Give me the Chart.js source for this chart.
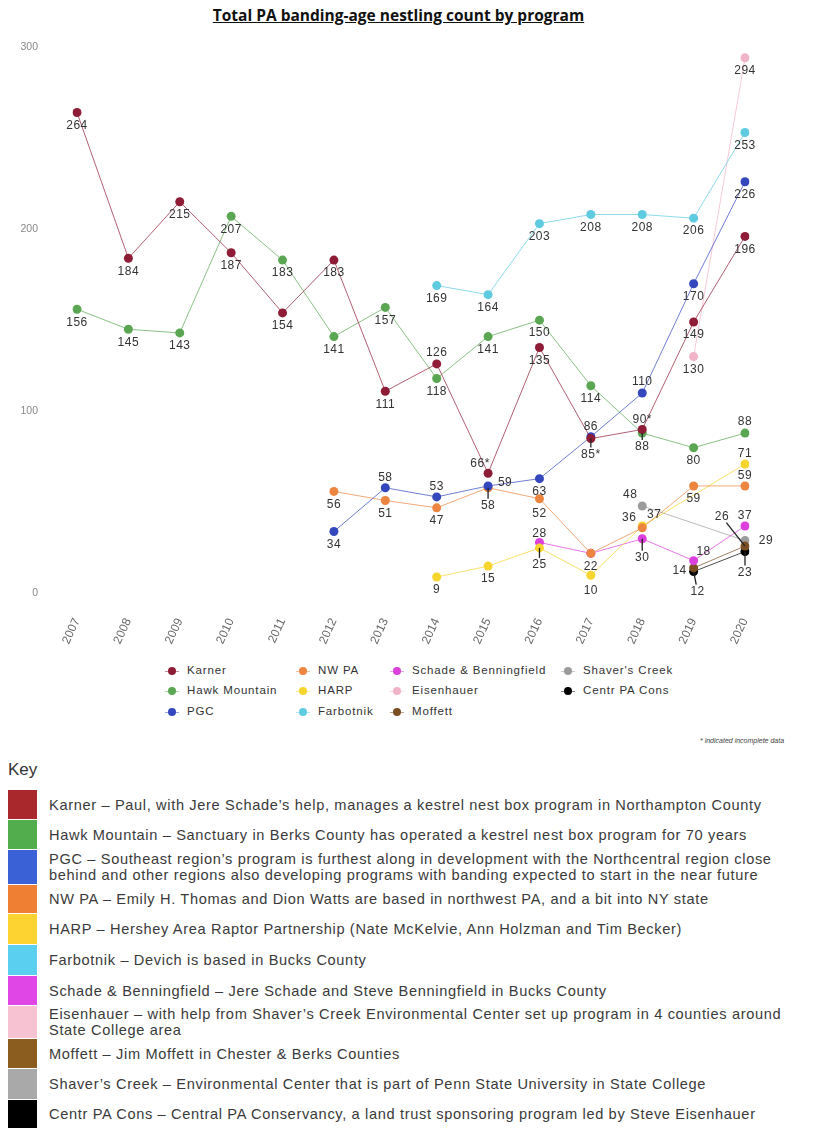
<!DOCTYPE html>
<html>
<head>
<meta charset="utf-8">
<script src="https://cdn.jsdelivr.net/npm/chart.js@4.4.1/dist/chart.umd.min.js"></script>
<style>
  body { margin: 0; background: #fff; font-family: "Liberation Sans", Arial, sans-serif; }
  #page { position: relative; width: 819px; height: 1144px; overflow: hidden; }
  #title { position: absolute; top: 4px; left: 0; width: 797px; text-align: center;
           font: bold 15.5px "Open Sans", "Liberation Sans", sans-serif; color: #111; text-decoration: underline; }
  #chartBox { position: absolute; top: 30px; left: 0; }
  .lg { position: absolute; font-size: 11.5px; letter-spacing: 0.85px; color: #333; white-space: nowrap; }
  .lg .mk { position: absolute; left: -22px; top: 1px; width: 14px; height: 12px; }
  .lg .mk i { position: absolute; left: 0; top: 6px; width: 14px; height: 1px; }
  .lg .mk b { position: absolute; left: 3px; top: 2px; width: 8px; height: 8px; border-radius: 50%; }
  #note { position: absolute; left: 700px; top: 737px; font: italic 7px "Liberation Sans", Arial; color: #444; }
  #keyHead { position: absolute; left: 8px; top: 760px; font-size: 17px; color: #333; }
  .kr { position: absolute; left: 8px; width: 805px; }
  .kr .sw { position: absolute; left: 0; top: 0; width: 29px; bottom: 1px; }
  .kr .tx { position: absolute; left: 41px; font-size: 14.6px; letter-spacing: 0.65px; color: #3a3a3a; line-height: 16px; white-space: nowrap; }
</style>
</head>
<body>
<div id="page">
  <div id="title">Total PA banding-age nestling count by program</div>
  <div id="chartBox"><canvas id="nestChart" width="819" height="630"></canvas></div>
  <div id="legendBox"></div>
  <div id="note">* indicated incomplete data</div>
  <div id="keyHead">Key</div>
  <div id="keyBox"></div>
</div>
<script>
// years on the x axis
const years = ['2007', '2008', '2009', '2010', '2011', '2012', '2013', '2014', '2015', '2016', '2017', '2018', '2019', '2020'];

// nestling counts per program (null = no data that year)
const karner      = [264, 184, 215, 187, 154, 183, 111, 126, 66, 135, 85, 90, 149, 196];
const hawkMtn     = [156, 145, 143, 207, 183, 141, 157, 118, 141, 150, 114, 88, 80, 88];
const pgc         = [null, null, null, null, null, 34, 58, 53, 59, 63, 86, 110, 170, 226];
const nwPa        = [null, null, null, null, null, 56, 51, 47, 58, 52, 22, 36, 59, 59];
const harp        = [null, null, null, null, null, null, null, 9, 15, 25, 10, 37, null, 71];
const farbotnik   = [null, null, null, null, null, null, null, 169, 164, 203, 208, 208, 206, 253];
const schade      = [null, null, null, null, null, null, null, null, null, 28, 22, 30, 18, 37];
const eisenhauer  = [null, null, null, null, null, null, null, null, null, null, null, null, 130, 294];
const moffett     = [null, null, null, null, null, null, null, null, null, null, null, null, 14, 26];
const shavers     = [null, null, null, null, null, null, null, null, null, null, null, 48, null, 29];
const centrPaCons = [null, null, null, null, null, null, null, null, null, null, null, null, 12, 23];

const yTicks = [0, 100, 200, 300];

// values flagged as incomplete (shown with *)
const incomplete = ['Karner|2015', 'Karner|2017', 'Karner|2018'];

// series: name, data, point colour, key swatch colour
const series = [
    { name: 'Karner', data: karner, color: '#8e1c36', swatch: '#a8282c' },
    { name: 'Hawk Mountain', data: hawkMtn, color: '#5aa652', swatch: '#52ad4c' },
    { name: 'PGC', data: pgc, color: '#3447bd', swatch: '#3b61d6' },
    { name: 'NW PA', data: nwPa, color: '#ec8540', swatch: '#ef7f33' },
    { name: 'HARP', data: harp, color: '#f5d52e', swatch: '#fdd331' },
    { name: 'Farbotnik', data: farbotnik, color: '#5ecbe0', swatch: '#5bcff0' },
    { name: 'Schade & Benningfield', data: schade, color: '#dc40dc', swatch: '#e045e6' },
    { name: 'Eisenhauer', data: eisenhauer, color: '#f1b3c8', swatch: '#f7c2d2' },
    { name: 'Moffett', data: moffett, color: '#7b4f22', swatch: '#8b5d1f' },
    { name: "Shaver's Creek", data: shavers, color: '#9c9c9c', swatch: '#a9a9a9' },
    { name: 'Centr PA Cons', data: centrPaCons, color: '#000000', swatch: '#000000' }
];

// label placement tweaks (dx, dy from point), default is just below
const labelOffsets = {
    'Karner|2014': [0, -11], 'Karner|2015': [-8, -10], 'Karner|2017': [0, 16], 'Karner|2018': [0, -10],
    'PGC|2013': [0, -10], 'PGC|2014': [0, -10], 'PGC|2015': [17, -3], 'PGC|2017': [0, -10], 'PGC|2018': [0, -11],
    'NW PA|2015': [0, 18], 'NW PA|2016': [0, 15], 'NW PA|2018': [-13, -10], 'NW PA|2020': [0, -10],
    'HARP|2016': [0, 17], 'HARP|2017': [0, 15], 'HARP|2018': [12, -11], 'HARP|2020': [0, -10],
    'Schade & Benningfield|2016': [0, -9], 'Schade & Benningfield|2018': [0, 19],
    'Schade & Benningfield|2019': [10, -9], 'Schade & Benningfield|2020': [0, -10],
    "Shaver's Creek|2018": [-12, -11], "Shaver's Creek|2020": [21, 0],
    'Hawk Mountain|2018': [0, 14], 'Hawk Mountain|2020': [0, -11],
    'Moffett|2019': [-14, 3], 'Moffett|2020': [-23, -29],
    'Centr PA Cons|2019': [4, 20], 'Centr PA Cons|2020': [0, 21]
};
const hiddenLabels = ['Schade & Benningfield|2017'];
const leaders = ['NW PA|2015', 'HARP|2016', 'Schade & Benningfield|2018', 'Centr PA Cons|2019', 'Moffett|2020', 'Centr PA Cons|2020', 'Karner|2017', 'Hawk Mountain|2018'];

function fade(hex, a) {
    const n = parseInt(hex.slice(1), 16);
    return `rgba(${(n >> 16) & 255}, ${(n >> 8) & 255}, ${n & 255}, ${a})`;
}

// draws the count next to each point
const valueLabels = {
    id: 'valueLabels',
    afterDatasetsDraw(chart) {
        const ctx = chart.ctx;
        ctx.save();
        ctx.font = '12px "Liberation Sans", Arial, sans-serif';
        ctx.letterSpacing = '0.5px';
        ctx.textAlign = 'center';
        ctx.textBaseline = 'middle';
        chart.data.datasets.forEach((ds, i) => {
            const meta = chart.getDatasetMeta(i);
            meta.data.forEach((pt, j) => {
                const v = ds.data[j];
                if (v === null) return;
                const key = ds.label + '|' + years[j];
                if (hiddenLabels.includes(key)) return;
                const off = labelOffsets[key] || [0, 13];
                const tx = pt.x + off[0], ty = pt.y + off[1];
                if (leaders.includes(key)) {
                    ctx.strokeStyle = '#222';
                    ctx.lineWidth = 1.3;
                    ctx.beginPath();
                    ctx.moveTo(pt.x, pt.y);
                    const k = 1 - 7 / Math.hypot(off[0], off[1]);
                    ctx.lineTo(pt.x + off[0] * k, pt.y + off[1] * k);
                    ctx.stroke();
                }
                ctx.fillStyle = '#333';
                ctx.fillText(String(v) + (incomplete.includes(key) ? '*' : ''), tx, ty);
            });
        });
        ctx.restore();
    }
};

const ctx = document.getElementById('nestChart').getContext('2d');
new Chart(ctx, {
    type: 'line',
    data: {
        labels: years,
        datasets: series.map(s => ({
            label: s.name,
            data: s.data,
            borderColor: fade(s.color, 0.7),
            borderWidth: 1,
            backgroundColor: s.color,
            pointBackgroundColor: s.color,
            pointBorderWidth: 0,
            pointRadius: 4.5,
            spanGaps: true,
            tension: 0
        }))
    },
    options: {
        responsive: false,
        animation: false,
        devicePixelRatio: 1,
        layout: { padding: { top: 6, right: 74, left: 0, bottom: 0 } },
        plugins: {
            legend: { display: false },
            tooltip: { enabled: false }
        },
        scales: {
            x: {
                offset: false,
                grid: { display: false },
                border: { display: false },
                ticks: { color: '#666', font: { size: 12 }, minRotation: 65, maxRotation: 65, autoSkip: false, padding: 0 },
                afterFit: scale => { scale.height = 52; }
            },
            y: {
                min: -8,
                max: 306,
                grid: { display: false, drawTicks: false },
                border: { display: false },
                ticks: { color: '#888', font: { size: 10.5 }, padding: 39 },
                afterBuildTicks: scale => { scale.ticks = yTicks.map(v => ({ value: v })); },
                afterFit: scale => {
                    scale.width = 77;
                    scale.paddingTop = 6;
                    scale.paddingBottom = 6;
                }
            }
        }
    },
    plugins: [valueLabels]
});

// legend laid out in columns like the original
const legendCols = [
    { x: 187, names: ['Karner', 'Hawk Mountain', 'PGC'] },
    { x: 318, names: ['NW PA', 'HARP', 'Farbotnik'] },
    { x: 412, names: ['Schade & Benningfield', 'Eisenhauer', 'Moffett'] },
    { x: 583, names: ["Shaver's Creek", 'Centr PA Cons'] }
];
const legendRows = [664, 684, 705];
const legendBox = document.getElementById('legendBox');
legendCols.forEach(col => {
    col.names.forEach((name, r) => {
        const s = series.find(d => d.name === name);
        const el = document.createElement('div');
        el.className = 'lg';
        el.style.left = col.x + 'px';
        el.style.top = legendRows[r] + 'px';
        el.innerHTML = `<span class="mk"><i style="background:${fade(s.color, 0.5)}"></i><b style="background:${s.color}"></b></span>${name}`;
        legendBox.appendChild(el);
    });
});

// key with descriptions
const keyText = [
    ['Karner', 'Karner \u2013 Paul, with Jere Schade\u2019s help, manages a kestrel nest box program in Northampton County'],
    ['Hawk Mountain', 'Hawk Mountain \u2013 Sanctuary in Berks County has operated a kestrel nest box program for 70 years'],
    ['PGC', 'PGC \u2013 Southeast region\u2019s program is furthest along in development with the Northcentral region close<br>behind and other regions also developing programs with banding expected to start in the near future'],
    ['NW PA', 'NW PA \u2013 Emily H. Thomas and Dion Watts are based in northwest PA, and a bit into NY state'],
    ['HARP', 'HARP \u2013 Hershey Area Raptor Partnership (Nate McKelvie, Ann Holzman and Tim Becker)'],
    ['Farbotnik', 'Farbotnik \u2013 Devich is based in Bucks County'],
    ['Schade & Benningfield', 'Schade &amp; Benningfield \u2013 Jere Schade and Steve Benningfield in Bucks County'],
    ['Eisenhauer', 'Eisenhauer \u2013 with help from Shaver\u2019s Creek Environmental Center set up program in 4 counties around<br>State College area'],
    ['Moffett', 'Moffett \u2013 Jim Moffett in Chester &amp; Berks Counties'],
    ["Shaver's Creek", 'Shaver\u2019s Creek \u2013 Environmental Center that is part of Penn State University in State College'],
    ['Centr PA Cons', 'Centr PA Cons \u2013 Central PA Conservancy, a land trust sponsoring program led by Steve Eisenhauer']
];
const keyRows = [790, 820, 850, 885, 914, 945, 976, 1006, 1039, 1069, 1100, 1129];
const keyBox = document.getElementById('keyBox');
keyText.forEach(([name, text], i) => {
    const s = series.find(d => d.name === name);
    const h = keyRows[i + 1] - keyRows[i];
    const lines = text.includes('<br>') ? 2 : 1;
    const row = document.createElement('div');
    row.className = 'kr';
    row.style.top = keyRows[i] + 'px';
    row.style.height = h + 'px';
    row.innerHTML = `<div class="sw" style="background:${s.swatch}"></div>` +
        `<div class="tx" style="top:${Math.round((h - 1 - lines * 16) / 2)}px">${text}</div>`;
    keyBox.appendChild(row);
});
</script>
</body>
</html>
